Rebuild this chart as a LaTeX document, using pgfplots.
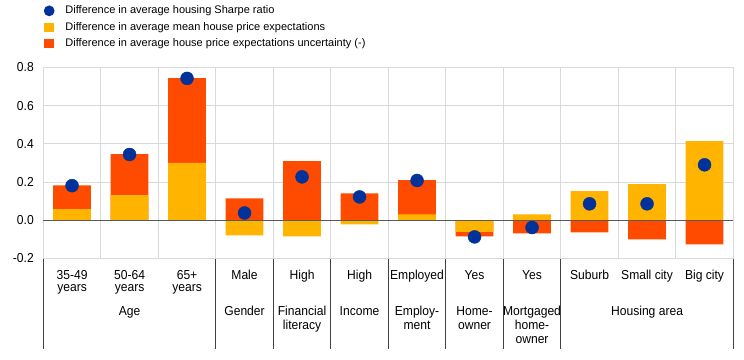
\documentclass[border=0pt]{standalone}
\usepackage{fontspec}
\setmainfont{Liberation Sans}
\newfontfamily\narrowfont[FakeStretch=0.93]{Liberation Sans}
\usepackage{pgfplots}
\usepackage{pgfplotstable}
\pgfplotsset{compat=1.18}
\definecolor{ecbblue}{RGB}{0,50,153}
\definecolor{ecbyellow}{RGB}{255,180,0}
\definecolor{ecborange}{RGB}{255,75,0}
\definecolor{gridgray}{RGB}{217,217,217}
\definecolor{zerogray}{RGB}{89,89,89}
\definecolor{sepgray}{RGB}{64,64,64}
\newcommand\labfont{\narrowfont\fontsize{13}{14}\selectfont}
\tikzset{
  lab/.style={font=\labfont, anchor=base, inner sep=0pt},
  sepline/.style={draw=sepgray, line width=0.8pt},
}

% x: category, yel: mean house price expectations, oext: outer edge of uncertainty segment, sr: Sharpe ratio
\pgfplotstableread{
x yel oext sr
0 0.058 0.183 0.181
1 0.131 0.346 0.344
2 0.300 0.744 0.742
3 -0.079 0.115 0.038
4 -0.084 0.309 0.227
5 -0.021 0.141 0.122
6 0.031 0.210 0.208
7 -0.061 -0.084 -0.087
8 0.031 -0.068 -0.038
9 0.152 -0.063 0.086
10 0.189 -0.100 0.086
11 0.414 -0.126 0.290
}\data

\begin{document}
\begin{tikzpicture}
\useasboundingbox (-43.3pt,-100.5pt) rectangle (700.7pt,258.5pt);
\begin{axis}[
  at={(0pt,0pt)}, anchor=south west,
  scale only axis, width=690pt, height=191.2pt,
  xmin=-0.5, xmax=11.5, ymin=-0.2, ymax=0.8,
  xtick={-0.5,0.5,...,11.5}, xticklabels={},
  ytick={-0.2,0,0.2,0.4,0.6,0.8},
  xmajorgrids, ymajorgrids,
  grid style={draw=gridgray, line width=0.8pt},
  axis line style={draw=gridgray, line width=0.8pt},
  major tick length=0pt,
  yticklabel style={font=\labfont, xshift=-6pt, /pgf/number format/.cd, fixed, fixed zerofill, precision=1, assume math mode=true},
  clip=false,
  legend cell align=left,
  legend style={at={(axis description cs:0,1)}, anchor=south west, yshift=15pt,
    draw=none, fill=none, inner sep=0pt, row sep=0pt,
    font=\fontsize{11}{13}\selectfont,
    nodes={text height=8pt, text depth=2.5pt, inner sep=3pt}},
]
\addlegendimage{legend image code/.code={\path[draw=none] (0pt,0pt) -- (19pt,0pt); \fill[ecbblue, draw=none] (5.7pt,0pt) circle (5.4pt);}}
\addlegendentry{Difference in average housing Sharpe ratio}
\addlegendimage{legend image code/.code={\path[draw=none] (0pt,0pt) -- (19pt,0pt); \fill[ecbyellow, draw=none] (1pt,-4.5pt) rectangle (10.5pt,4.5pt);}}
\addlegendentry{Difference in average mean house price expectations}
\addlegendimage{legend image code/.code={\path[draw=none] (0pt,0pt) -- (19pt,0pt); \fill[ecborange, draw=none] (1pt,-4.5pt) rectangle (10.5pt,4.5pt);}}
\addlegendentry{Difference in average house price expectations uncertainty (-)}

\addplot[ybar, bar width=0.655, bar shift=0pt, fill=ecborange, draw=none, forget plot] table[x=x, y=oext] {\data};
\addplot[ybar, bar width=0.655, bar shift=0pt, fill=ecbyellow, draw=none, forget plot] table[x=x, y=yel] {\data};
\draw[zerogray, line width=1pt] (axis cs:-0.5,0) -- (axis cs:11.5,0);
\addplot[only marks, mark=*, mark size=6.5pt, color=ecbblue, forget plot] table[x=x, y=sr] {\data};

\draw[sepline] (axis cs:-0.5,-0.2) -- ++(0pt,-90pt);
\draw[sepline] (axis cs:2.5,-0.2) -- ++(0pt,-90pt);
\draw[sepline] (axis cs:3.5,-0.2) -- ++(0pt,-90pt);
\draw[sepline] (axis cs:4.5,-0.2) -- ++(0pt,-90pt);
\draw[sepline] (axis cs:5.5,-0.2) -- ++(0pt,-90pt);
\draw[sepline] (axis cs:6.5,-0.2) -- ++(0pt,-90pt);
\draw[sepline] (axis cs:7.5,-0.2) -- ++(0pt,-90pt);
\draw[sepline] (axis cs:8.5,-0.2) -- ++(0pt,-90pt);
\draw[sepline] (axis cs:11.5,-0.2) -- ++(0pt,-90pt);

\node[lab, yshift=-20.5pt] at (axis cs:0,-0.2) {35-49};
\node[lab, yshift=-33pt] at (axis cs:0,-0.2) {years};
\node[lab, yshift=-20.5pt] at (axis cs:1,-0.2) {50-64};
\node[lab, yshift=-33pt] at (axis cs:1,-0.2) {years};
\node[lab, yshift=-20.5pt] at (axis cs:2,-0.2) {65+};
\node[lab, yshift=-33pt] at (axis cs:2,-0.2) {years};
\node[lab, yshift=-20.5pt] at (axis cs:3,-0.2) {Male};
\node[lab, yshift=-20.5pt] at (axis cs:4,-0.2) {High};
\node[lab, yshift=-20.5pt] at (axis cs:5,-0.2) {High};
\node[lab, yshift=-20.5pt] at (axis cs:6,-0.2) {Employed};
\node[lab, yshift=-20.5pt] at (axis cs:7,-0.2) {Yes};
\node[lab, yshift=-20.5pt] at (axis cs:8,-0.2) {Yes};
\node[lab, yshift=-20.5pt] at (axis cs:9,-0.2) {Suburb};
\node[lab, yshift=-20.5pt] at (axis cs:10,-0.2) {Small city};
\node[lab, yshift=-20.5pt] at (axis cs:11,-0.2) {Big city};

\node[lab, yshift=-56.5pt] at (axis cs:1,-0.2) {Age};
\node[lab, yshift=-56.5pt] at (axis cs:3,-0.2) {Gender};
\node[lab, yshift=-56.5pt] at (axis cs:4,-0.2) {Financial};
\node[lab, yshift=-70.5pt] at (axis cs:4,-0.2) {literacy};
\node[lab, yshift=-56.5pt] at (axis cs:5,-0.2) {Income};
\node[lab, yshift=-56.5pt] at (axis cs:6,-0.2) {Employ-};
\node[lab, yshift=-70.5pt] at (axis cs:6,-0.2) {ment};
\node[lab, yshift=-56.5pt] at (axis cs:7,-0.2) {Home-};
\node[lab, yshift=-70.5pt] at (axis cs:7,-0.2) {owner};
\node[lab, yshift=-56.5pt] at (axis cs:8,-0.2) {Mortgaged};
\node[lab, yshift=-70.5pt] at (axis cs:8,-0.2) {home-};
\node[lab, yshift=-84.5pt] at (axis cs:8,-0.2) {owner};
\node[lab, yshift=-56.5pt] at (axis cs:10,-0.2) {Housing area};
\end{axis}
\end{tikzpicture}
\end{document}
